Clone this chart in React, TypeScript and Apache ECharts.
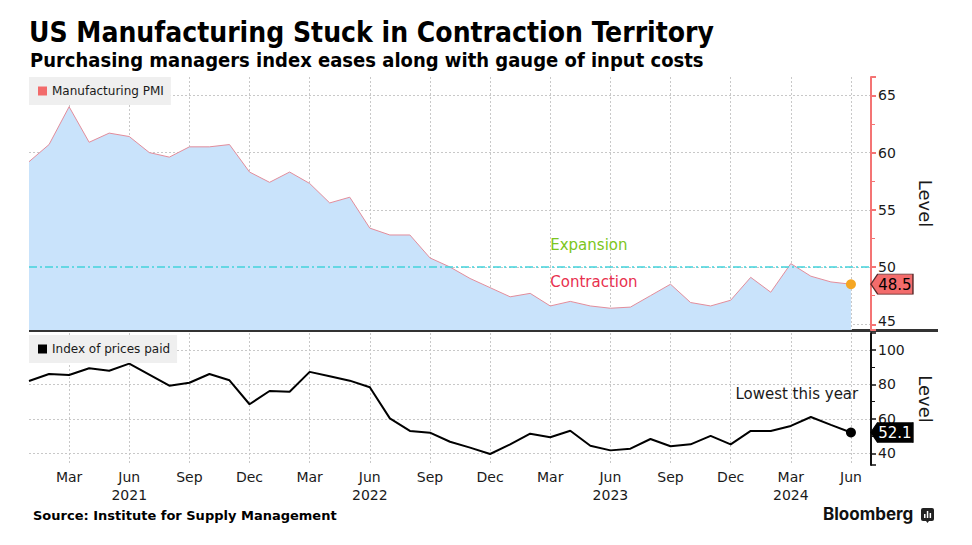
import React, { useEffect, useRef } from "react";
import * as echarts from "echarts";

const years = [2021, 2022, 2023, 2024];
const monthCodes = ["01", "02", "03", "04", "05", "06", "07", "08", "09", "10", "11", "12"];

// Manufacturing PMI, Jan 2021 .. Jun 2024
const pmi = [
  59.2, 60.7, 64.0, 60.9, 61.7, 61.4, 60.0, 59.6, 60.5, 60.5, 60.7, 58.3,
  57.4, 58.3, 57.3, 55.6, 56.1, 53.4, 52.8, 52.8, 50.8, 50.0, 49.0, 48.2,
  47.4, 47.7, 46.6, 47.0, 46.6, 46.4, 46.5, 47.5, 48.5, 46.9, 46.6, 47.1,
  49.1, 47.8, 50.3, 49.2, 48.7, 48.5,
];

// ISM index of prices paid, Jan 2021 .. Jun 2024
const prices = [
  82.0, 86.1, 85.5, 89.4, 88.0, 92.1, 85.7, 79.3, 81.0, 86.1, 82.4, 68.5,
  76.2, 75.8, 87.3, 84.8, 82.2, 78.4, 60.3, 53.0, 52.0, 46.7, 43.3, 39.6,
  45.2, 51.4, 49.3, 53.1, 44.4, 41.7, 42.7, 48.3, 44.1, 45.2, 50.1, 45.2,
  53.0, 53.0, 55.9, 61.1, 56.5, 52.1,
];

// month categories, plus one blank slot so the axis runs past the last month
const categories: string[] = [];
years.forEach((y) => monthCodes.forEach((m) => categories.push(`${y}-${m}`)));
categories.length = pmi.length;
categories.push("");

const xTickLabels: Record<string, string> = {
  "2021-03": "Mar", "2021-06": "Jun\n2021", "2021-09": "Sep", "2021-12": "Dec",
  "2022-03": "Mar", "2022-06": "Jun\n2022", "2022-09": "Sep", "2022-12": "Dec",
  "2023-03": "Mar", "2023-06": "Jun\n2023", "2023-09": "Sep", "2023-12": "Dec",
  "2024-03": "Mar\n2024", "2024-06": "Jun",
};

const THRESHOLD = 50;
const FONT = "DejaVu Sans";
const TEXT = "#1a1a1a";
const GRID_LINE = { color: "#c8c8c8", type: [2, 2] as number[], width: 1 };

export default function App() {
  const ref = useRef<HTMLDivElement>(null);

  useEffect(() => {
    if (!ref.current) return;
    const chart = echarts.init(ref.current, undefined, { renderer: "svg" });
    const last = pmi.length - 1;
    const isTick = (_i: number, v: string) => xTickLabels[v] !== undefined;

    const tagPath = "path://M0,10 L8,0 L50,0 L50,20 L8,20 Z";

    chart.setOption({
      animation: false,
      backgroundColor: "#ffffff",
      textStyle: { fontFamily: FONT },
      grid: [
        { left: 29, right: 101, top: 77, height: 253 },
        { left: 29, right: 101, top: 333, height: 132 },
      ],
      legend: [
        {
          left: 29, top: 77, padding: [8, 7, 8, 9], backgroundColor: "#efefef",
          icon: "rect", itemWidth: 9, itemHeight: 9,
          textStyle: { fontSize: 12, color: TEXT, fontFamily: FONT },
          selectedMode: false,
          data: [{ name: "Manufacturing PMI", itemStyle: { color: "#f26b6b" } }],
        },
        {
          left: 29, top: 335, padding: [8, 7, 8, 9], backgroundColor: "#efefef",
          icon: "rect", itemWidth: 9, itemHeight: 9,
          textStyle: { fontSize: 12, color: TEXT, fontFamily: FONT },
          selectedMode: false,
          data: [{ name: "Index of prices paid", itemStyle: { color: "#000" } }],
        },
      ],
      xAxis: [
        {
          type: "category", gridIndex: 0, data: categories, boundaryGap: false,
          axisLine: { show: false }, axisTick: { show: false }, axisLabel: { show: false },
          splitLine: { show: true, interval: isTick, lineStyle: GRID_LINE },
        },
        {
          type: "category", gridIndex: 1, data: categories, boundaryGap: false,
          axisLine: { show: false }, axisTick: { show: false },
          axisLabel: {
            show: true, interval: isTick, formatter: (v: string) => xTickLabels[v] || "",
            fontSize: 14, color: TEXT, fontFamily: FONT, margin: 3, lineHeight: 18,
          },
          splitLine: { show: true, interval: isTick, lineStyle: GRID_LINE },
        },
      ],
      yAxis: [
        {
          type: "value", gridIndex: 0, position: "right", min: 44.5, max: 66.6, splitNumber: 5,
          axisLine: { show: true, lineStyle: { color: "#f47474", width: 2 } },
          axisTick: { show: true, length: 5, lineStyle: { color: "#f47474", width: 2 } },
          minorTick: { show: true, splitNumber: 2, length: 4, lineStyle: { color: "#f47474", width: 1 } },
          axisLabel: {
            fontSize: 14, color: TEXT, fontFamily: FONT, margin: 7,
            showMinLabel: false, showMaxLabel: false,
            formatter: (v: number) => (v === 45 ? `{up|${v}}` : `${v}`),
            rich: { up: { fontSize: 14, color: TEXT, fontFamily: FONT, padding: [0, 0, 7, 0] } },
          },
          splitLine: { show: true, lineStyle: GRID_LINE, showMinLine: false, showMaxLine: false },
          name: "Level", nameLocation: "middle", nameRotate: -90, nameGap: 45,
          nameTextStyle: { fontSize: 18, color: TEXT, fontFamily: FONT },
        },
        {
          type: "value", gridIndex: 1, position: "right", min: 33.2, max: 109.9, splitNumber: 4,
          axisLine: { show: true, lineStyle: { color: "#111", width: 2 } },
          axisTick: { show: true, length: 5, lineStyle: { color: "#111", width: 1.5 } },
          minorTick: { show: true, splitNumber: 2, length: 4, lineStyle: { color: "#111", width: 1 } },
          axisLabel: {
            fontSize: 14, color: TEXT, fontFamily: FONT, margin: 7,
            showMinLabel: false, showMaxLabel: false,
          },
          splitLine: { show: true, lineStyle: GRID_LINE, showMinLine: false, showMaxLine: false },
          name: "Level", nameLocation: "middle", nameRotate: -90, nameGap: 45,
          nameTextStyle: { fontSize: 18, color: TEXT, fontFamily: FONT },
        },
      ],
      series: [
        {
          name: "Manufacturing PMI", type: "line", xAxisIndex: 0, yAxisIndex: 0,
          data: pmi, showSymbol: false, clip: false,
          lineStyle: { color: "#e38d9b", width: 1 },
          itemStyle: { color: "#f26b6b" },
          areaStyle: { color: "#c9e3fb", opacity: 1, origin: "start" },
          markLine: {
            silent: true, symbol: "none", label: { show: false },
            lineStyle: { color: "#43d3dc", type: [8, 3, 2, 3], width: 1.5 },
            data: [{ yAxis: THRESHOLD }],
          },
          markPoint: {
            silent: true,
            data: [
              {
                coord: [26, 51.9], symbol: "circle", symbolSize: 0,
                label: { show: true, formatter: "Expansion", position: "right", distance: 0, color: "#7cc520", fontSize: 15, fontFamily: FONT },
              },
              {
                coord: [26, 48.7], symbol: "circle", symbolSize: 0,
                label: { show: true, formatter: "Contraction", position: "right", distance: 0, color: "#e8304e", fontSize: 15, fontFamily: FONT },
              },
              {
                coord: [last, pmi[last]], symbol: "circle", symbolSize: 10,
                itemStyle: { color: "#f5a623" }, label: { show: false },
              },
              {
                coord: [last, pmi[last]], value: pmi[last], symbol: tagPath, symbolKeepAspect: false,
                symbolSize: [42, 20], symbolOffset: [41, 0],
                itemStyle: { color: "#f36c6c", borderColor: "#5a2a2a", borderWidth: 1 },
                label: { show: true, position: "inside", offset: [3, 1], formatter: "{c}", color: "#000", fontSize: 15, fontFamily: FONT },
              },
            ],
          },
        },
        {
          name: "Index of prices paid", type: "line", xAxisIndex: 1, yAxisIndex: 1,
          data: prices, showSymbol: false, clip: false,
          lineStyle: { color: "#000", width: 2 },
          itemStyle: { color: "#000" },
          markPoint: {
            silent: true,
            data: [
              {
                coord: [38, 74.5], symbol: "circle", symbolSize: 0,
                label: { show: true, formatter: "Lowest this year", position: "inside", offset: [6, 0], color: TEXT, fontSize: 15, fontFamily: FONT },
              },
              {
                coord: [last, prices[last]], symbol: "circle", symbolSize: 10,
                itemStyle: { color: "#000" }, label: { show: false },
              },
              {
                coord: [last, prices[last]], value: prices[last], symbol: tagPath, symbolKeepAspect: false,
                symbolSize: [42, 20], symbolOffset: [41, 0],
                itemStyle: { color: "#000", borderColor: "#000", borderWidth: 1 },
                label: { show: true, position: "inside", offset: [3, 1], formatter: "{c}", color: "#fff", fontSize: 15, fontFamily: FONT },
              },
            ],
          },
        },
      ],
      graphic: [
        {
          type: "text", left: 29, top: 18,
          style: { text: "US Manufacturing Stuck in Contraction Territory", fill: "#000", fontSize: 28, fontWeight: "bold", fontFamily: "DejaVu Sans Condensed" },
        },
        {
          type: "text", left: 30, top: 50,
          style: { text: "Purchasing managers index eases along with gauge of input costs", fill: "#000", fontSize: 20, fontWeight: "bold", fontFamily: "DejaVu Sans Condensed" },
        },
        { type: "rect", left: 29, top: 329, shape: { width: 909, height: 3 }, style: { fill: "#333" } },
        {
          type: "text", left: 33, top: 509,
          style: { text: "Source: Institute for Supply Management", fill: "#000", fontSize: 13, fontWeight: "bold", fontFamily: FONT },
        },
        {
          type: "text", left: 823, top: 505,
          style: { text: "Bloomberg", fill: "#111", fontSize: 17, fontWeight: "bold", fontFamily: "Inter" },
        },
        {
          type: "group", left: 921, top: 508,
          children: [
            { type: "rect", shape: { x: 0, y: 0, width: 13, height: 13, r: 2 }, style: { fill: "#222" } },
            { type: "polygon", shape: { points: [[5, 13], [8, 13], [6.5, 15]] }, style: { fill: "#222" } },
            { type: "rect", shape: { x: 3, y: 6, width: 1.5, height: 4 }, style: { fill: "#fff" } },
            { type: "rect", shape: { x: 5.8, y: 3, width: 1.5, height: 7 }, style: { fill: "#fff" } },
            { type: "rect", shape: { x: 8.6, y: 5, width: 1.5, height: 5 }, style: { fill: "#fff" } },
          ],
        },
      ],
    });

    return () => chart.dispose();
  }, []);

  return (
    <div
      ref={ref}
      style={{ position: "fixed", left: 0, top: 0, width: 972, height: 545, background: "#fff" }}
    />
  );
}
